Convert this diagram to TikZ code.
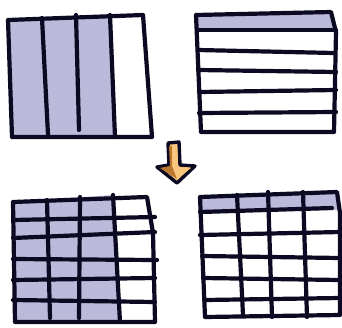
\documentclass[tikz,border=0pt]{standalone}
\usepackage{tikz}
\begin{document}
\begin{tikzpicture}[
      x=1pt, y=-1pt,
      ink/.style={draw=inkblue, line width=4.2pt, line cap=round, line join=round},
      shade/.style={fill=lavender},
      arrowfill/.style={fill=arrowtan, draw=inkblue, line width=3.4pt, line join=round}]
      \definecolor{inkblue}{HTML}{0B0A22}
      \definecolor{lavender}{HTML}{BCBADA}
      \definecolor{arrowtan}{HTML}{F8C77C}
      \definecolor{arrowdark}{HTML}{B9782E}
      \useasboundingbox (0,0) rectangle (342,327);
      % top left: columns
      \fill[shade] (8,20) -- (110,15) -- (115,137) -- (12,137) -- cycle;
      \draw[ink] (8,20) -- (143,15) -- (152,137) -- (12,137) -- cycle;
      \draw[ink] (42,18) -- (48,135);
      \draw[ink] (76,15) -- (79,130);
      \draw[ink] (110,15) -- (115,137);
      % top right: rows
      \fill[shade] (196,15) -- (331,12) -- (334,30) -- (198,30) -- cycle;
      \draw[ink] (196,15) -- (331,12) -- (336,32) -- (334,132) -- (201,132) -- cycle;
      \draw[ink] (198,30) -- (336,30);
      \draw[ink] (198,50) -- (334,53);
      \draw[ink] (198,70) -- (336,72);
      \draw[ink] (199,92) -- (336,90);
      \draw[ink] (199,113) -- (336,112);
      % arrow
      \draw[arrowfill] (168,143) -- (179,142) -- (180,165) -- (195,166)
        -- (177,183) -- (157,167) -- (169,165) -- cycle;
      \fill[arrowdark] (169,146) -- (172,146) -- (172,166) -- (177,179)
        -- (160,168) -- (170,166) -- cycle;
      \fill[arrowtan] (172,146) -- (177,145) -- (178,167) -- (191,168)
        -- (177,179) -- (173,166) -- cycle;
      % bottom left: columns x rows
      \fill[shade] (13,202) -- (113,195) -- (120,322) -- (15,322) -- cycle;
      \draw[ink] (13,202) -- (147,197) -- (153,233) -- (155,322) -- (15,322) -- cycle;
      \draw[ink] (47,200) -- (50,318);
      \draw[ink] (80,197) -- (79,318);
      \draw[ink] (113,195) -- (120,322);
      \draw[ink] (13,220) -- (155,217);
      \draw[ink] (13,238) -- (155,232);
      \draw[ink] (13,259) -- (157,260);
      \draw[ink] (13,280) -- (155,278);
      \draw[ink] (13,300) -- (155,302);
      % bottom right: rows x columns
      \fill[shade] (200,197) -- (337,192) -- (339,210) -- (200,212) -- cycle;
      \draw[ink] (200,197) -- (337,192) -- (340,213) -- (340,315) -- (205,317) -- cycle;
      \draw[ink] (237,195) -- (243,315);
      \draw[ink] (268,192) -- (272,317);
      \draw[ink] (303,192) -- (307,317);
      \draw[ink] (200,212) -- (332,208);
      \draw[ink] (200,235) -- (340,232);
      \draw[ink] (202,256) -- (340,258);
      \draw[ink] (203,278) -- (340,280);
      \draw[ink] (205,300) -- (340,298);
    \end{tikzpicture}
\end{document}
